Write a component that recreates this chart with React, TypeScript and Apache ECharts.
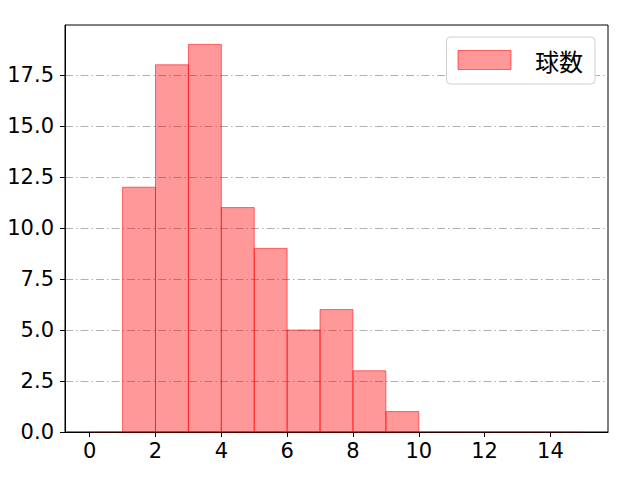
import React, { useEffect, useRef } from "react";
import * as echarts from "echarts";

const binEdges = [0, 1, 2, 3, 4, 5, 6, 7, 8, 9, 10, 11, 12, 13, 14, 15];
const counts = [0, 12, 18, 19, 11, 9, 5, 6, 3, 1, 0, 0, 0, 0, 0];
const xTicks = [0, 2, 4, 6, 8, 10, 12, 14];
const yTicks = [0, 2.5, 5, 7.5, 10, 12.5, 15, 17.5];
const seriesName = "球数";

const FONT = "'DejaVu Sans', 'Noto Sans CJK JP', sans-serif";
const CJK = "'Noto Sans CJK JP', sans-serif";

export default function App() {
  const ref = useRef<HTMLDivElement>(null);
  useEffect(() => {
    if (!ref.current) return;
    const chart = echarts.init(ref.current, null, { renderer: "svg" });
    const data = counts.map((c, i) => [binEdges[i], binEdges[i + 1], c]);
    const fill = "rgba(255,0,0,0.4)";
    const edge = "rgba(255,0,0,0.55)";
    chart.setOption({
      animation: false,
      backgroundColor: "#fff",
      textStyle: { fontFamily: FONT },
      grid: {
        left: 65,
        right: 32,
        top: 25,
        bottom: 48,
        show: true,
        borderColor: "#000",
        borderWidth: 1,
        backgroundColor: "transparent",
      },
      legend: {
        show: true,
        right: 45,
        top: 37,
        orient: "horizontal",
        padding: [11, 12, 12, 11],
        itemWidth: 53,
        itemHeight: 19,
        backgroundColor: "#fff",
        borderColor: "#d0d0d0",
        borderWidth: 1,
        borderRadius: 4,
        textStyle: { fontSize: 24, color: "#000", fontFamily: CJK, padding: [0, 0, 0, 19] },
        data: [
          {
            name: seriesName,
            icon: "rect",
            itemStyle: { color: fill, borderColor: edge, borderWidth: 1 },
          },
        ],
      },
      xAxis: {
        type: "value",
        min: -0.75,
        max: 15.75,
        axisLine: { show: true, onZero: false, lineStyle: { color: "#000", width: 1 } },
        axisTick: {
          show: true,
          length: 5,
          inside: false,
          customValues: xTicks,
          lineStyle: { color: "#000" },
        },
        axisLabel: {
          customValues: xTicks,
          fontSize: 21,
          color: "#000",
          fontFamily: FONT,
          margin: 8,
        },
        splitLine: { show: false },
      },
      yAxis: {
        type: "value",
        min: 0,
        max: 19.95,
        interval: 2.5,
        axisLine: { show: true, onZero: false, lineStyle: { color: "#000", width: 1 } },
        axisTick: {
          show: true,
          length: 5,
          customValues: yTicks,
          lineStyle: { color: "#000" },
        },
        axisLabel: {
          customValues: yTicks,
          fontSize: 21,
          color: "#000",
          fontFamily: FONT,
          margin: 11,
          formatter: (v: number) => v.toFixed(1),
        },
        splitLine: {
          show: true,
          lineStyle: { color: "#b0b0b0", width: 1, type: [8, 3, 1.5, 3] },
        },
      },
      series: [
        {
          name: seriesName,
          type: "custom",
          data,
          encode: { x: [0, 1], y: 2 },
          itemStyle: { color: fill, borderColor: edge, borderWidth: 1 },
          renderItem: (params: any, api: any) => {
            const x0 = api.value(0);
            const x1 = api.value(1);
            const y = api.value(2);
            const p0 = api.coord([x0, 0]);
            const p1 = api.coord([x1, y]);
            return {
              type: "rect",
              shape: {
                x: p0[0],
                y: p1[1],
                width: p1[0] - p0[0],
                height: p0[1] - p1[1],
              },
              style: {
                fill,
                stroke: y === 0 ? "rgba(255,0,0,0.15)" : edge,
                lineWidth: 1,
              },
            };
          },
        },
      ],
    });
    return () => chart.dispose();
  }, []);
  return <div ref={ref} style={{ width: 640, height: 480, margin: -8 }} />;
}
